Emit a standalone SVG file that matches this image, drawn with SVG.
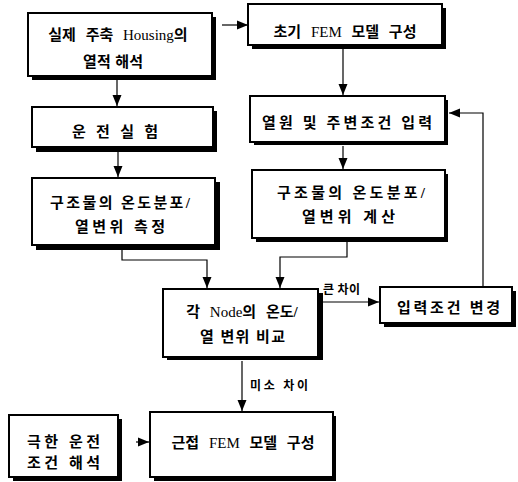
<svg xmlns="http://www.w3.org/2000/svg" width="518" height="482" viewBox="0 0 518 482">
<defs>
<style>
.sh{fill:#000}
.bx{fill:#fff;stroke:#000;stroke-width:2}
.t{font-family:"Liberation Serif","Noto Sans CJK KR",serif;font-size:15px;font-weight:700;fill:#000}
.m{text-anchor:middle;word-spacing:6px}
.l{font-family:"Liberation Serif","Noto Sans CJK KR",serif;font-size:12px;font-weight:700;fill:#000}
.lat{font-weight:400;font-size:15px}
.c{fill:none;stroke:#000;stroke-width:1.2}
</style>
<marker id="ah" markerUnits="userSpaceOnUse" markerWidth="12" markerHeight="10" refX="11" refY="5" orient="auto">
<path d="M0,0.5 L11,5 L0,9.5 z" fill="#000"/>
</marker>
</defs>
<rect width="518" height="482" fill="#fff"/>
<g id="connectors">
<line class="c" x1="222" y1="25" x2="248" y2="25" marker-end="url(#ah)"/>
<line class="c" x1="117" y1="80" x2="117" y2="106" marker-end="url(#ah)"/>
<line class="c" x1="118" y1="152" x2="118" y2="177" marker-end="url(#ah)"/>
<line class="c" x1="343" y1="49" x2="343" y2="95" marker-end="url(#ah)"/>
<line class="c" x1="343" y1="146" x2="343" y2="169" marker-end="url(#ah)"/>
<polyline class="c" points="122,250 122,260 207,260 207,288" marker-end="url(#ah)"/>
<polyline class="c" points="347,242 347,257 280,257 280,288" marker-end="url(#ah)"/>
<line class="c" x1="323" y1="302" x2="379" y2="302" marker-end="url(#ah)"/>
<polyline class="c" points="483,323 483,113 449,113" marker-end="url(#ah)"/>
<line class="c" x1="242" y1="361" x2="242" y2="411" marker-end="url(#ah)"/>
<line class="c" x1="136" y1="442" x2="149" y2="442" marker-end="url(#ah)"/>
<text class="l" x="323" y="294" textLength="37" lengthAdjust="spacing">큰 차이</text>
<text class="l" x="250" y="390" textLength="58" lengthAdjust="spacing">미소 차이</text>
</g>
<g id="nodeA">
<rect class="sh" x="32" y="17" width="184" height="63"/>
<rect class="bx" x="28" y="13" width="184" height="63"/>
<text class="t m" x="118" y="40">실제 주축 <tspan class="lat">Housing</tspan>의</text>
<text class="t" x="83" y="67" textLength="60" lengthAdjust="spacing">열적 해석</text>
</g>
<g id="nodeB">
<rect class="sh" x="252" y="8" width="194" height="41"/>
<rect class="bx" x="248" y="4" width="194" height="41"/>
<text class="t m" x="345" y="37">초기 <tspan class="lat">FEM</tspan> 모델 구성</text>
</g>
<g id="nodeC">
<rect class="sh" x="36" y="111" width="181" height="41"/>
<rect class="bx" x="32" y="107" width="181" height="40"/>
<text class="t" x="72" y="137" textLength="86" lengthAdjust="spacing">운 전 실 험</text>
</g>
<g id="nodeD">
<rect class="sh" x="254" y="100" width="194" height="45"/>
<rect class="bx" x="250" y="96" width="195" height="46"/>
<text class="t" x="262" y="128" textLength="170" lengthAdjust="spacing">열원 및 주변조건 입력</text>
</g>
<g id="nodeE">
<rect class="sh" x="36" y="182" width="184" height="68"/>
<rect class="bx" x="32" y="178" width="183" height="67"/>
<text class="t" x="50" y="208" textLength="140" lengthAdjust="spacing">구조물의 온도분포/</text>
<text class="t" x="75" y="232" textLength="90" lengthAdjust="spacing">열변위 측정</text>
</g>
<g id="nodeF">
<rect class="sh" x="256" y="174" width="192" height="68"/>
<rect class="bx" x="252" y="170" width="193" height="68"/>
<text class="t" x="277" y="198" textLength="148" lengthAdjust="spacing">구조물의 온도분포/</text>
<text class="t" x="302" y="222" textLength="93" lengthAdjust="spacing">열변위 계산</text>
</g>
<g id="nodeG">
<rect class="sh" x="167" y="293" width="156" height="67"/>
<rect class="bx" x="163" y="289" width="155" height="68"/>
<text class="t m" x="242" y="317">각 <tspan class="lat">Node</tspan>의 온도/</text>
<text class="t" x="200" y="342" textLength="85" lengthAdjust="spacing">열 변위 비교</text>
</g>
<g id="nodeH">
<rect class="sh" x="384" y="291" width="132" height="36"/>
<rect class="bx" x="380" y="287" width="132" height="36"/>
<text class="t" x="397" y="313" textLength="103" lengthAdjust="spacing">입력조건 변경</text>
</g>
<g id="nodeI">
<rect class="sh" x="154" y="416" width="182" height="65"/>
<rect class="bx" x="150" y="412" width="183" height="65"/>
<text class="t m" x="243" y="448">근접 <tspan class="lat">FEM</tspan> 모델 구성</text>
</g>
<g id="nodeJ">
<rect class="sh" x="13" y="419" width="109" height="62"/>
<rect class="bx" x="9" y="415" width="109" height="62"/>
<text class="t" x="27" y="447" textLength="73" lengthAdjust="spacing">극한 운전</text>
<text class="t" x="27" y="468" textLength="73" lengthAdjust="spacing">조건 해석</text>
</g>
</svg>
